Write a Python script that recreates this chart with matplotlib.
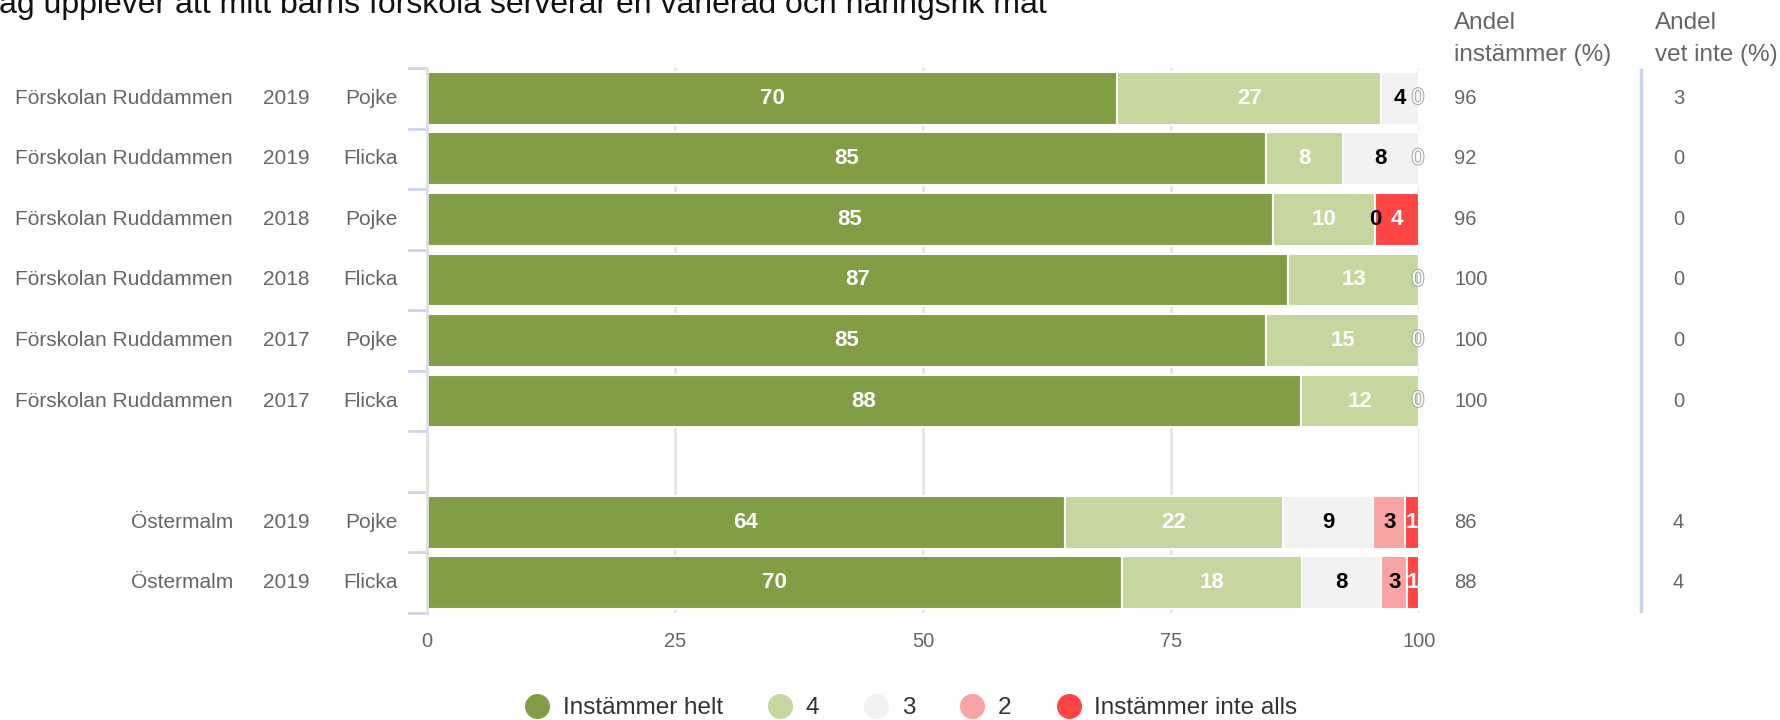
import matplotlib
matplotlib.use("Agg")
import matplotlib.pyplot as plt
from matplotlib.lines import Line2D
from matplotlib.transforms import blended_transform_factory
import matplotlib.patheffects as pe

plt.rcParams['font.family'] = ['Liberation Sans', 'DejaVu Sans']

title = "Jag upplever att mitt barns förskola serverar en varierad och näringsrik mat"
series_names = ["Instämmer helt", "4", "3", "2", "Instämmer inte alls"]
colors = ["#819E45", "#C5D69E", "#F2F2F2", "#F9A3A3", "#FF4444"]
label_colors = ["white", "white", "black", "black", "white"]

groups = ["Förskolan Ruddammen"] * 6 + ["Östermalm"] * 2
years = ["2019", "2019", "2018", "2018", "2017", "2017", "2019", "2019"]
genders = ["Pojke", "Flicka", "Pojke", "Flicka", "Pojke", "Flicka", "Pojke", "Flicka"]

helt = [69.6, 84.6, 85.3, 86.8, 84.6, 88.1, 64.3, 70.1]
fyra = [26.6, 7.7, 10.3, 13.2, 15.4, 11.9, 22.0, 18.1]
tre = [3.8, 7.7, 0, 0, 0, 0, 9.1, 8.0]
tva = [0, 0, 0, 0, 0, 0, 3.2, 2.6]
inte_alls = [0, 0, 4.4, 0, 0, 0, 1.4, 1.2]

andel_instammer = [96, 92, 96, 100, 100, 100, 86, 88]
andel_vet_inte = [3, 0, 0, 0, 0, 0, 4, 4]

xticks = [0, 25, 50, 75, 100]

series = [helt, fyra, tre, tva, inte_alls]

# positions: one slot per row, plus an empty slot between groups
positions = []
pos = -1
for i, g in enumerate(groups):
    pos += 1
    if i > 0 and g != groups[i - 1]:
        pos += 1
    positions.append(pos)
nslots = positions[-1] + 1

W, H = 1781, 720
fig = plt.figure(figsize=(W / 100, H / 100), dpi=100)
ax = fig.add_axes([427 / W, 1 - 613 / H, (1419 - 427) / W, (613 - 68) / H])
ax.set_xlim(0, 100)
ax.set_ylim(nslots - 0.5, -0.5)

for x in xticks:
    ax.axvline(x, color="#E6E6E6", lw=2, zorder=0)

bar_h = 0.87
lab_fs = 16
lefts = [0.0] * len(helt)
for si, vals in enumerate(series):
    ax.barh(positions, vals, left=lefts, height=bar_h, color=colors[si],
            edgecolor="white", linewidth=1.5, zorder=2)
    for r, v in enumerate(vals):
        cx = lefts[r] + v / 2
        if v > 0:
            ax.text(cx, positions[r], f"{v:.0f}", ha="center", va="center",
                    color=label_colors[si], fontsize=lab_fs, fontweight="bold", zorder=4)
        else:
            later = sum(s[r] for s in series[si + 1:])
            if si == 2 and later > 0:
                ax.text(cx, positions[r], "0", ha="center", va="center",
                        color="black", fontsize=lab_fs, fontweight="bold", zorder=4)
            elif si == 4:
                ax.text(cx - 0.1, positions[r], "0", ha="center", va="center",
                        color="white", fontsize=lab_fs, zorder=4,
                        path_effects=[pe.withStroke(linewidth=1.6, foreground="#AAAAAA")])
    lefts = [l + v for l, v in zip(lefts, vals)]

for sp in ["top", "right", "bottom"]:
    ax.spines[sp].set_visible(False)
ax.spines["left"].set_color("#E0E0E0")
ax.spines["left"].set_linewidth(2)

ax.set_xticks(xticks)
ax.set_xticklabels([str(x) for x in xticks])
ax.tick_params(axis="x", length=0, colors="#666666", labelsize=14.5, pad=14)
ax.set_yticks([])

# left band ticks
tr_ax = blended_transform_factory(fig.transFigure, ax.transData)
for b in range(nslots + 1):
    ax.plot([409 / W, 427 / W], [b - 0.5, b - 0.5], transform=tr_ax,
            color="#CCD6EB", lw=2, clip_on=False, zorder=1)

side_fs = 15
for r in range(len(groups)):
    y = positions[r]
    ax.text(233 / W, y, groups[r], transform=tr_ax, ha="right", va="center",
            fontsize=side_fs, color="#666666")
    ax.text(286 / W, y, years[r], transform=tr_ax, ha="center", va="center",
            fontsize=side_fs, color="#666666")
    ax.text(398 / W, y, genders[r], transform=tr_ax, ha="right", va="center",
            fontsize=side_fs, color="#666666")
    ax.text(1454 / W, y, str(andel_instammer[r]), transform=tr_ax, ha="left",
            va="center", fontsize=14.5, color="#666666")
    ax.text(1673 / W, y, str(andel_vet_inte[r]), transform=tr_ax, ha="left",
            va="center", fontsize=14.5, color="#666666")

fig.text(1454 / W, 1 - 39 / H, "Andel\ninstämmer (%)", ha="left", va="center",
         fontsize=17.5, color="#666666", linespacing=1.55)
fig.text(1655 / W, 1 - 39 / H, "Andel\nvet inte (%)", ha="left", va="center",
         fontsize=17.5, color="#666666", linespacing=1.55)

fig.add_artist(Line2D([1641 / W, 1641 / W], [1 - 70 / H, 1 - 611 / H],
                      transform=fig.transFigure, color="#C8D4E8", lw=2.5))

fig.text(-17 / W, 1 - 13 / H, title, ha="left", va="baseline", fontsize=23,
         color="#111111")

handles = [Line2D([], [], marker="o", linestyle="", markersize=17,
                  markerfacecolor=c, markeredgecolor=c) for c in colors]
fig.legend(handles, series_names, loc="center", bbox_to_anchor=(0.5116, 1 - 708 / H),
           ncol=5, frameon=False, fontsize=17.5, handlelength=1.0, handletextpad=0.55,
           columnspacing=1.85, labelcolor="#333333")

fig.savefig("out.png", dpi=100)
